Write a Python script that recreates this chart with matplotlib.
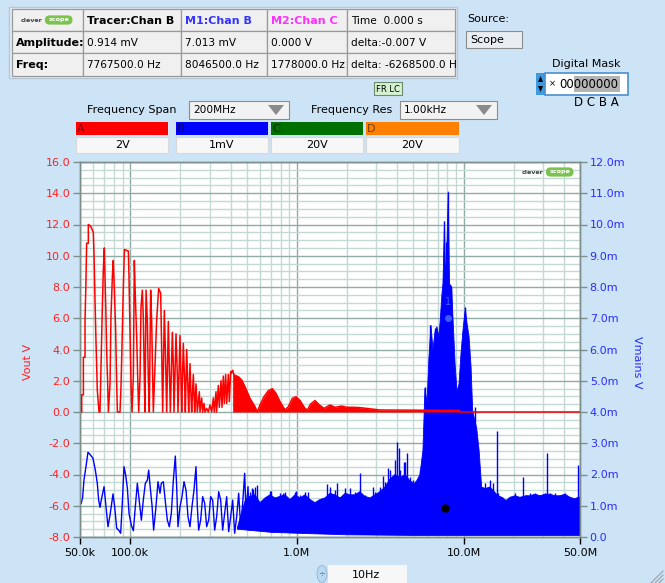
import numpy as np
import matplotlib
matplotlib.use("Agg")
import matplotlib.pyplot as plt
from matplotlib.patches import Rectangle, FancyBboxPatch, Ellipse, Polygon
from matplotlib.ticker import MultipleLocator, FixedLocator, NullFormatter, FuncFormatter, FormatStrFormatter

# ---------------- data ----------------
# Channel A (Vout, left axis, V): discrete harmonic region
red_spec_khz = [51.2, 51.2, 52.4, 52.4, 53.6, 53.6, 54.3, 54.8, 56.1, 56.1, 57.9, 60.1, 60.7, 61.5, 62.4, 63.5, 65.0, 65.9,
                68.0, 69.0, 70.0, 70.6, 71.6, 72.3, 73.3, 74.0,
                75.7, 76.7, 78.2, 79.2, 80.4, 81.8, 83.0, 83.8, 86.9,
                88.1, 89.7, 91.0, 92.3, 97.5, 98.4, 99.8, 101.2, 102.6,
                104.5, 105.9, 107.4, 109.4, 110.9, 112.5,
                114.6, 116.1, 118.3, 120.0, 121.6, 122.7,
                124.5, 126.8, 128.5, 130.3,
                132.7, 134.6, 136.5, 137.7,
                144.2, 148.2, 152.4, 154.5, 156.7,
                160.3, 162.6, 165.6,
                169.4, 171.8, 174.2,
                179.1, 181.6, 183.2,
                188.4, 191.9, 193.6,
                199.1, 201.8, 203.7,
                208.4, 212.3, 214.3,
                218.3, 222.3, 224.4,
                228.6, 231.7, 233.9,
                239.3, 242.7, 243.8,
                248.3, 252.9,
                260.0, 262.4,
                268.5, 272.3,
                277.3, 281.2,
                287.7, 294.4,
                301.3, 308.3,
                315.5, 319.8,
                327.3, 330.3,
                338.1, 342.8,
                350.8, 355.6,
                362.2, 367.3,
                374.1, 379.3,
                388.1, 393.5,
                400.9, 406.4, 412.0]
red_spec_v = [0.0, 1.1, 1.1, 3.5, 3.5, 5.9, 8.4, 10.8, 10.8, 12.0, 11.9, 11.5, 10.0, 7.2, 4.4, 1.4, 0.0, 0.0,
              6.5, 9.1, 10.5, 8.7, 6.1, 3.8, 1.8, 0.0,
              1.8, 6.1, 8.7, 9.7, 7.8, 5.3, 1.8, 0.0, 0.0,
              1.6, 5.1, 8.0, 10.4, 10.3, 8.6, 5.1, 1.8, 0.0,
              2.3, 9.7, 7.4, 4.8, 2.3, 0.0,
              2.3, 6.7, 7.8, 5.9, 2.1, 0.0,
              7.8, 5.8, 2.1, 0.0,
              7.8, 5.8, 2.1, 0.0,
              5.9, 7.9, 7.6, 4.0, 0.0,
              6.5, 4.0, 0.0,
              5.8, 2.9, 0.0,
              5.1, 2.9, 0.0,
              5.0, 2.3, 0.0,
              4.9, 2.0, 0.0,
              4.4, 1.8, 0.0,
              4.0, 1.4, 0.0,
              3.1, 1.0, 0.0,
              2.4, 0.55, 0.0,
              1.8, 0.0,
              1.3, 0.0,
              0.9, 0.0,
              0.55, 0.0,
              0.23, 0.0,
              0.45, 0.0,
              0.9, 0.0,
              1.3, 0.0,
              1.7, 0.3,
              2.0, 0.3,
              2.3, 0.55,
              2.4, 0.55,
              2.4, 0.66,
              2.6, 2.5, 2.65]
# Channel A dense lobes (envelope)
red_lobe_khz = [412.0, 419.7, 445.6, 466.6, 488.6, 523.6, 561, 579.4, 601, 635.3, 674.5, 712.9, 749.9, 792.4,
                849.2, 889.1, 939.6, 988.6, 1045, 1119, 1156, 1210, 1285, 1365, 1455, 1581, 1694, 1858, 1991,
                2183, 2393, 3150, 9400, 9600, 50000]
red_lobe_v = [2.65, 2.37, 2.26, 2.05, 1.62, 0.87, 0.34, 0.0, 0.45, 0.98, 1.37, 1.49, 1.19, 0.66,
              0.13, 0.34, 0.87, 0.98, 0.73, 0.23, 0.13, 0.51, 0.73, 0.45, 0.23, 0.45, 0.30, 0.38, 0.30,
              0.30, 0.28, 0.13, 0.10, 0.0, 0.0]

# Channel B (Vmains, right axis, mV): low-frequency trace
blue_line_khz = [50.9, 51.9, 52.8, 54.3, 55.8, 57.9, 59.8, 61.8, 63.5, 64.7,
                 65.9, 67.7, 69.7, 71.6, 73.6, 75.7, 78.9, 80.7, 83.0, 85.3,
                 87.7, 89.7, 91.8, 94.0, 96.2, 98.4, 101.6, 104.5, 107.4, 110.4,
                 113.5, 116.7, 119.9, 123.3, 126.8, 129.1, 132.1, 135.2, 138.3, 142.2,
                 146.9, 151.0, 153.8, 158.1, 162.6, 167.1, 171.8, 176.6, 181.6, 186.6,
                 190.1, 193.6, 199.1, 204.6, 210.4, 216.3, 222.3, 228.5, 234.9, 241.5,
                 248.3, 252.9, 257.6, 264.8, 272.3, 279.9, 287.7, 295.8, 304.1, 312.6,
                 321.4, 330.4, 339.6, 349.1, 358.9, 369.0, 379.3, 389.9, 400.9, 412.1,
                 423.6, 435.5, 447.7, 460.2, 473.1, 486.4, 495.4, 509.3, 518.9, 533.4,
                 548.2, 563.6, 584.7]
blue_line_mv = [1.08, 1.29, 1.82, 2.25, 2.71, 2.62, 2.52, 2.14, 1.72, 1.18,
                0.95, 1.29, 1.61, 0.97, 0.33, 0.70, 1.38, 0.97, 0.28, 0.22,
                0.12, 1.08, 2.25, 1.98, 1.56, 0.76, 0.38, 0.20, 0.97, 1.72,
                1.13, 0.54, 1.18, 1.72, 1.82, 2.14, 1.56, 1.02, 0.22, 0.86,
                1.77, 1.40, 1.72, 1.77, 1.13, 0.54, 0.33, 0.76, 1.82, 2.59,
                1.61, 0.33, 0.97, 1.29, 1.77, 1.50, 0.65, 0.33, 0.97, 1.50,
                2.25, 0.97, 0.22, 0.54, 1.29, 1.08, 0.33, 0.54, 1.29, 1.18,
                0.22, 0.65, 1.45, 1.18, 0.22, 0.76, 1.29, 0.17, 0.65, 1.18,
                0.12, 0.65, 1.40, 0.33, 1.08, 2.04, 0.76, 1.61, 0.22, 1.08,
                1.50, 0.44, 0.97]
# Channel B dense region: top of the solid mass
blue_env_khz = [440, 488.6, 524, 561, 601, 644, 690, 740, 792, 849, 910,
                975, 1045, 1120, 1200, 1285, 1377, 1476, 1580, 1690, 1820,
                1950, 2080, 2230, 2390, 2560, 2750, 2940, 3150, 3380, 3620,
                3880, 4160, 4460, 4770, 5120, 5480, 5710, 5870, 6040, 6210,
                6380, 6560, 6750, 6930, 7130, 7230, 7430, 7530, 7690, 7800,
                7960, 8100, 8240, 8490, 8650, 8900, 9140, 9400, 9660, 9930,
                10250, 10500, 10800, 11100, 11350, 11560, 12000, 12400, 12850, 13500,
                14400, 15000, 16100, 17000, 18000, 19000, 20400, 21800, 23700, 25000,
                26900, 28800, 30800, 33000, 35400, 38000, 40600, 43600, 46700, 48600,
                50000]
blue_env_mv = [0.30, 1.15, 1.30, 1.35, 1.10, 1.25, 1.35, 1.25, 1.30, 1.35, 1.20,
               1.35, 1.25, 1.35, 1.20, 1.10, 1.20, 1.25, 1.40, 1.35, 1.25,
               1.40, 1.35, 1.35, 1.45, 1.30, 1.25, 1.35, 1.45, 1.60, 1.85,
               2.00, 1.90, 2.00, 1.80, 1.70, 2.00, 2.78, 4.76, 4.30, 5.77,
               6.78, 6.00, 6.57, 6.73, 6.40, 6.84, 7.80, 8.12, 10.09, 8.10,
               9.40, 11.05, 8.10, 8.01, 7.00, 5.56, 4.65, 4.90, 5.88, 6.62,
               7.32, 6.84, 6.41, 5.45, 4.06, 3.85, 3.48, 2.78, 1.60, 1.55,
               1.60, 1.50, 1.32, 1.27, 1.17, 1.27, 1.32, 1.27, 1.32, 1.32,
               1.37, 1.32, 1.37, 1.37, 1.32, 1.32, 1.37, 1.27, 1.22, 1.27,
               1.27]
# Channel B dense region: lower edge
blue_floor_khz = [440, 700, 1000, 2000, 5000, 20000, 50000]
blue_floor_mv = [0.25, 0.15, 0.12, 0.07, 0.05, 0.05, 0.05]
# Channel B spikes rising above the mass
blue_spike_khz = [524, 536, 561, 579, 690, 697, 792, 830, 849, 975, 988, 1045, 1120, 1170,
                  1476, 1520, 1580, 1690, 1750, 1820, 1950, 2080, 2230, 2390, 2560, 2880, 2940,
                  3150, 3300, 3380, 3540, 3620, 3880, 3970, 4120, 4160, 4400, 4460, 4560, 4770,
                  5000, 5120, 5480, 5870, 6200, 6300, 6700, 7230, 7690, 7850, 8100, 8450, 9900,
                  10250, 11700, 13500, 14400, 15000, 15800, 16100, 17000, 19000, 20400, 21800,
                  22900, 23700, 25000, 26900, 28800, 30800, 31500, 33000, 35400, 38000, 40600,
                  43600, 46700, 48400, 49800]
blue_spike_mv = [1.45, 1.56, 1.61, 1.66, 1.48, 1.48, 1.40, 1.42, 1.45, 1.45, 1.48, 1.34, 1.45, 1.45,
                 1.29, 1.69, 1.61, 1.50, 1.74, 1.29, 1.56, 1.56, 1.45, 2.06, 1.34, 1.61, 1.45,
                 1.61, 1.95, 1.77, 2.20, 2.14, 2.46, 3.05, 2.84, 2.14, 2.41, 2.41, 2.68, 1.93,
                 1.82, 1.80, 2.14, 4.80, 5.80, 6.80, 6.70, 6.84, 10.10, 9.45, 11.05, 8.00, 6.60,
                 7.37, 4.17, 1.72, 1.82, 1.72, 3.40, 1.40, 1.29, 1.29, 1.40, 1.29,
                 1.93, 1.34, 1.40, 1.40, 1.34, 1.40, 2.68, 1.40, 1.40, 1.34, 1.40,
                 1.29, 1.24, 2.30, 2.25]

# markers
tracer_hz, tracer_mv = 7767500.0, 0.914
m1_hz, m1_mv = 8046500.0, 7.013

# axes
x_tick_hz = [50e3, 100e3, 1e6, 10e6, 50e6]
x_tick_labels = ["50.0k", "100.0k", "1.0M", "10.0M", "50.0M"]
left_lim = (-8.0, 16.0)
right_lim = (0.0, 12.0)

# table texts
table_rows = [["", "Tracer:Chan B", "M1:Chan B", "M2:Chan C", "Time  0.000 s"],
              ["Amplitude:", "0.914 mV", "7.013 mV", "0.000 V", "delta:-0.007 V"],
              ["Freq:", "7767500.0 Hz", "8046500.0 Hz", "1778000.0 Hz", "delta: -6268500.0 H"]]
channels = ["A", "B", "C", "D"]
channel_scales = ["2V", "1mV", "20V", "20V"]

# ---------------- figure ----------------
BG = "#cde4f7"
W, H = 665, 583
fig = plt.figure(figsize=(W / 100, H / 100), dpi=100, facecolor=BG)

bg = fig.add_axes([0, 0, 1, 1], zorder=0)
bg.set_xlim(0, W); bg.set_ylim(H, 0); bg.axis("off")
fg = fig.add_axes([0, 0, 1, 1], zorder=10)
fg.set_xlim(0, W); fg.set_ylim(H, 0); fg.axis("off"); fg.patch.set_alpha(0)

FONT = "DejaVu Sans"


def rect(ax, x0, y0, x1, y1, fc, ec="none", lw=0.8, z=1):
    ax.add_patch(Rectangle((x0, y0), x1 - x0, y1 - y0, facecolor=fc, edgecolor=ec, lw=lw, zorder=z))


def txt(ax, x, y, s, size=8, color="black", weight="normal", ha="left", va="center", z=3, **kw):
    ax.text(x, y, s, fontsize=size, color=color, fontweight=weight, ha=ha, va=va,
            family=FONT, zorder=z, **kw)


def logo(ax, x, y, size=5):
    txt(ax, x, y, "clever", size=size, color="#404040", weight="bold", ha="left")
    ax.add_patch(FancyBboxPatch((x + 26 * size / 5, y - 5 * size / 5), 30 * size / 5, 10 * size / 5,
                                boxstyle="round,pad=0,rounding_size=%g" % (5 * size / 5),
                                facecolor="#7cc24e", edgecolor="none", zorder=3))
    txt(ax, x + 41 * size / 5, y, "scope", size=size, color="white", weight="bold", ha="center", z=4)


# table
rect(bg, 9, 7, 457, 78, "#e6eef6", "#b8c8d8", lw=1.0)
cols = [12, 83, 181, 267, 347, 455]
rows = [9, 31, 53, 76]
col_colors = [["black", "black", "#3535ff", "#ff30ff", "black"]] + [["black"] * 5] * 2
for r in range(3):
    for c in range(5):
        rect(bg, cols[c], rows[r], cols[c + 1], rows[r + 1], "#f0f0f0", "#9a9a9a", lw=0.9)
        s = table_rows[r][c]
        if not s:
            continue
        bold = (r == 0 and c in (1, 2, 3)) or (c == 0)
        txt(bg, cols[c] + 4, (rows[r] + rows[r + 1]) / 2 + 0.5, s, size=8 if bold else 7.6,
            color=col_colors[r][c], weight="bold" if bold else "normal", clip_on=True)
logo(bg, 21, 20, size=4.6)

# source
txt(bg, 467, 19, "Source:", size=8)
rect(bg, 466, 31, 522, 48, "#e9eef3", "#8c8c8c")
txt(bg, 470, 40, "Scope", size=8)

# digital mask
txt(bg, 586, 64, "Digital Mask", size=8, ha="center")
rect(bg, 536, 73, 545, 95, "#3d9ae0")
bg.add_patch(Polygon([[538, 82], [543, 82], [540.5, 76]], closed=True, fc="black", ec="none", zorder=3))
bg.add_patch(Polygon([[538, 86], [543, 86], [540.5, 92]], closed=True, fc="black", ec="none", zorder=3))
rect(bg, 545, 73, 628, 95, "white", "#4a8fd0", lw=1.2)
rect(bg, 574, 76, 620, 92, "#b4b4b4", z=2)
txt(bg, 549, 84, "×", size=6)
txt(bg, 559, 84.5, "00000000", size=8.5)
txt(bg, 596, 103, "D C B A", size=8.5, ha="center")

# FR LC
rect(bg, 374, 82, 402, 95, "#d4f2d0", "#6c8a6c")
txt(bg, 388, 89, "FR LC", size=6, ha="center")

# frequency controls
txt(bg, 87, 110, "Frequency Span", size=8)
rect(bg, 189, 101, 289, 119, "#f2f2f2", "#8c8c8c")
txt(bg, 193, 110, "200MHz", size=7.6)
bg.add_patch(Polygon([[268, 105], [284, 105], [276, 115]], closed=True, fc="#8a8a8a", ec="none", zorder=3))
txt(bg, 311, 110, "Frequency Res", size=8)
rect(bg, 400, 101, 497, 119, "#f2f2f2", "#8c8c8c")
txt(bg, 404, 110, "1.00kHz", size=7.6)
bg.add_patch(Polygon([[476, 105], [492, 105], [484, 115]], closed=True, fc="#8a8a8a", ec="none", zorder=3))

# channel bars
bar_x = [(76, 168), (176, 268), (271, 363), (366, 459)]
bar_fc = ["#ff0000", "#0000ff", "#007000", "#ff8000"]
bar_tc = ["#700000", "#000070", "#002800", "#704000"]
for (x0, x1), fc, tc, ch, sc in zip(bar_x, bar_fc, bar_tc, channels, channel_scales):
    rect(bg, x0, 122, x1, 135, fc)
    txt(bg, x0 + 1, 129, ch, size=8, color=tc)
    rect(bg, x0, 137, x1, 153, "#f7f7f7", "#d8d8d8")
    txt(bg, (x0 + x1) / 2, 145.5, sc, size=8, ha="center")

# bottom control
bg.add_patch(Ellipse((322, 574), 10, 17, fc="#b9d9f2", ec="#8fb4d4", lw=0.6, zorder=2))
txt(bg, 322, 574, "÷", size=6, color="#5080a0", ha="center")
rect(bg, 328, 565, 407, 586, "#f7f7f7")
txt(bg, 366, 575, "10Hz", size=8, ha="center")
for d in (4, 8, 12):
    bg.plot([663 - d, 663], [583, 583 - d], color="#a0a0a0", lw=0.8)

# ---------------- plot ----------------
L, R, T, B = 80, 580, 162, 537
axb = fig.add_axes([L / W, 1 - B / H, (R - L) / W, (B - T) / H], zorder=2)
axb.set_facecolor("white")
axr = axb.twinx()
axr.set_zorder(3)
axr.patch.set_visible(False)

axb.set_xscale("log")
axb.set_xlim(50e3, 50e6)
axb.set_ylim(*right_lim)
axr.set_ylim(*left_lim)

minor_x = [m * 10 ** e for e in (4, 5, 6, 7) for m in range(2, 10) if 50e3 < m * 10 ** e < 50e6]
axb.xaxis.set_major_locator(FixedLocator(x_tick_hz))
axb.set_xticklabels(x_tick_labels)
axb.xaxis.set_minor_locator(FixedLocator(minor_x))
axb.xaxis.set_minor_formatter(NullFormatter())
axb.yaxis.set_major_locator(MultipleLocator(1.0))
axb.yaxis.set_minor_locator(MultipleLocator(0.25))
axb.yaxis.set_major_formatter(FuncFormatter(lambda v, p: "0.0" if abs(v) < 1e-9 else "%.1fm" % v))
axr.yaxis.set_major_locator(MultipleLocator(2.0))
axr.yaxis.set_major_formatter(FormatStrFormatter("%.1f"))

axb.grid(which="minor", color="#c5d9d4", lw=1.0)
axb.grid(which="major", color="#8fada6", lw=1.0)
axb.set_axisbelow(True)

axb.yaxis.tick_right()
axb.yaxis.set_label_position("right")
axr.yaxis.tick_left()
axr.yaxis.set_label_position("left")

axb.tick_params(axis="x", which="major", direction="out", length=5, width=1, colors="black",
                labelsize=8, pad=3)
axb.tick_params(axis="x", which="minor", length=0)
axb.tick_params(axis="y", which="major", direction="out", length=5, width=1, color="#7d8f8b",
                labelcolor="#2b2bff", labelsize=8, pad=2)
axb.tick_params(axis="y", which="minor", length=0)
axr.tick_params(axis="y", which="major", direction="out", length=5, width=1, color="#7d8f8b",
                labelcolor="#ff2020", labelsize=8, pad=2)
for a in (axb, axr):
    for s in a.spines.values():
        s.set_color("#7d8f8b")
        s.set_linewidth(1.0)
    for lab in a.get_yticklabels() + a.get_xticklabels():
        lab.set_family(FONT)

axr.set_ylabel("Vout V", color="#ff2020", fontsize=8, family=FONT)
axr.yaxis.set_label_coords((33 - L) / (R - L), (B - 362) / (B - T))
axb.set_ylabel("Vmains V", color="#2b2bff", fontsize=8, family=FONT, rotation=270, va="center")
axb.yaxis.set_label_coords((637 - L) / (R - L), (B - 362) / (B - T))

BLUE = "#0000ff"
RED = "#ff0000"
khz = lambda a: np.asarray(a, dtype=float) * 1e3

# channel B
axb.plot(khz(blue_line_khz), blue_line_mv, color=BLUE, lw=1.0, zorder=2)
poly_x = np.concatenate([khz(blue_env_khz), khz(blue_floor_khz)[::-1]])
poly_y = np.concatenate([blue_env_mv, blue_floor_mv[::-1]])
axb.fill(poly_x, poly_y, color=BLUE, lw=0.6, ec=BLUE, zorder=2)
axb.vlines(khz(blue_spike_khz), 0.3, blue_spike_mv, color=BLUE, lw=1.0, zorder=2)
axb.plot([m1_hz], [m1_mv], "o", ms=4, color="#3a5cff", zorder=4)
axb.text(m1_hz, m1_mv + 0.35, "1", color="#3a5cff", fontsize=7, ha="center", va="bottom", zorder=4)
axb.plot([tracer_hz], [tracer_mv], "o", ms=5, color="black", zorder=5)

# channel A
axr.plot(khz(red_spec_khz), red_spec_v, color=RED, lw=1.1, zorder=3)
axr.fill_between(khz(red_lobe_khz), 0, red_lobe_v, color=RED, lw=0, zorder=3)
axr.plot(khz(red_lobe_khz), red_lobe_v, color=RED, lw=1.1, zorder=3)

# logo in plot
logo(fg, 522, 172, size=4.6)

fig.savefig("out.png", dpi=100, facecolor=BG)
